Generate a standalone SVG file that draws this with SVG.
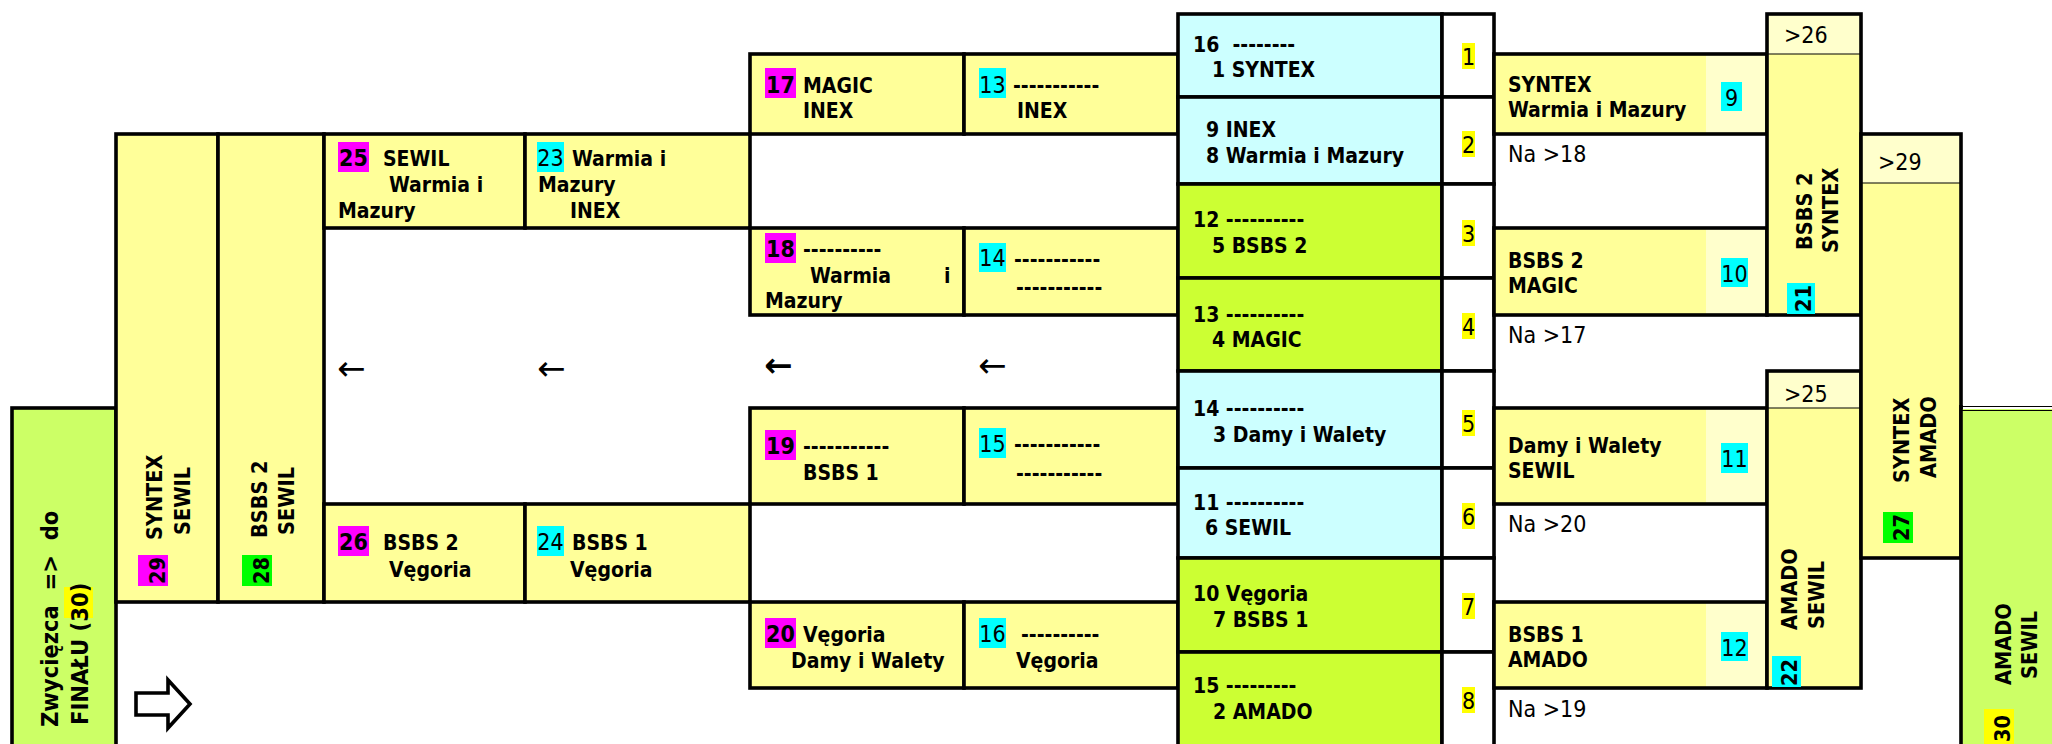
<svg xmlns="http://www.w3.org/2000/svg" width="2052" height="744" viewBox="0 0 2052 744">
<style>
.t{font-family:"DejaVu Sans Condensed","DejaVu Sans",sans-serif;font-stretch:condensed;fill:#000}
.b{font-weight:bold;font-size:21px}
.r{font-size:23px}
.lb{font-weight:bold;font-size:23px}
.v{font-weight:bold;font-size:21.5px}
.g{font-weight:bold;font-size:23.5px}
.m{text-anchor:middle}
.ar{font-family:"DejaVu Sans",sans-serif;font-size:34px;fill:#000}
.y{fill:#FFFF99}
.ly{fill:#FFFFCC}
.c{fill:#CCFFFF}
.gr{fill:#CCFF33}
.w{fill:#FFFFFF}
.k{stroke:#000;stroke-width:3.6}
.n{fill:none;stroke:#000;stroke-width:3.6}
.th{stroke:#000;stroke-width:1.2;fill:none}
.hm{fill:#FF00FF}
.hc{fill:#00FFFF}
.hg{fill:#00FF00}
.hy{fill:#FFFF00}
</style>
<rect x="0" y="0" width="2052" height="744" fill="#FFFFFF"/>

<g id="node-finalist">
<rect x="12" y="408" width="104" height="340" fill="#CCFF66" class="k"/>
<rect x="64" y="587" width="29" height="31" class="hy"/>
<text class="t g" transform="translate(58,727) rotate(-90)" xml:space="preserve">Zwycięzca  =&gt;  do</text>
<text class="t g" transform="translate(88,725) rotate(-90)">FINAŁU (30)</text>
</g>

<g id="node-29">
<rect x="116" y="134" width="102" height="468" class="y k"/>
<rect x="138" y="555" width="30" height="31" class="hm"/>
<text class="t v" transform="translate(162,540) rotate(-90)">SYNTEX</text>
<text class="t v" transform="translate(190,535) rotate(-90)">SEWIL</text>
<text class="t v" transform="translate(165,584) rotate(-90)">29</text>
</g>

<g id="node-28">
<rect x="218" y="134" width="106" height="468" class="y k"/>
<rect x="242" y="555" width="30" height="31" class="hg"/>
<text class="t v" transform="translate(267,538) rotate(-90)">BSBS 2</text>
<text class="t v" transform="translate(294,535) rotate(-90)">SEWIL</text>
<text class="t v" transform="translate(269,584) rotate(-90)">28</text>
</g>

<g id="node-25">
<rect x="324" y="134" width="201" height="94" class="y k"/>
<rect x="338" y="142" width="31" height="30" class="hm"/>
<text class="t lb m" x="353.5" y="166">25</text>
<text class="t b" x="383" y="166">SEWIL</text>
<text class="t b" x="389" y="192">Warmia i</text>
<text class="t b" x="338" y="218">Mazury</text>
</g>

<g id="node-23">
<rect x="525" y="134" width="225" height="94" class="y k"/>
<rect x="537" y="142" width="27" height="30" class="hc"/>
<text class="t r m" x="550.5" y="166">23</text>
<text class="t b" x="572" y="166">Warmia i</text>
<text class="t b" x="538" y="192">Mazury</text>
<text class="t b" x="570" y="218">INEX</text>
</g>

<g id="node-26">
<rect x="324" y="504" width="201" height="98" class="y k"/>
<rect x="338" y="526" width="31" height="30" class="hm"/>
<text class="t lb m" x="353.5" y="550">26</text>
<text class="t b" x="383" y="550">BSBS 2</text>
<text class="t b" x="389" y="577">Vęgoria</text>
</g>

<g id="node-24">
<rect x="525" y="504" width="225" height="98" class="y k"/>
<rect x="537" y="526" width="27" height="30" class="hc"/>
<text class="t r m" x="550.5" y="550">24</text>
<text class="t b" x="572" y="550">BSBS 1</text>
<text class="t b" x="570" y="577">Vęgoria</text>
</g>

<g id="node-17">
<rect x="750" y="54" width="214" height="80" class="y k"/>
<rect x="765" y="68" width="31" height="30" class="hm"/>
<text class="t lb m" x="780.5" y="93">17</text>
<text class="t b" x="803" y="93">MAGIC</text>
<text class="t b" x="803" y="118">INEX</text>
</g>

<g id="node-13">
<rect x="964" y="54" width="214" height="80" class="y k"/>
<rect x="979" y="68" width="27" height="30" class="hc"/>
<text class="t r m" x="992.5" y="93">13</text>
<text class="t b" x="1013" y="93">-----------</text>
<text class="t b" x="1017" y="118">INEX</text>
</g>

<g id="node-18">
<rect x="750" y="228" width="214" height="87" class="y k"/>
<rect x="765" y="233" width="31" height="30" class="hm"/>
<text class="t lb m" x="780.5" y="257">18</text>
<text class="t b" x="803" y="257">----------</text>
<text class="t b" x="810" y="283">Warmia</text>
<text class="t b" x="944" y="283">i</text>
<text class="t b" x="765" y="308">Mazury</text>
</g>

<g id="node-14">
<rect x="964" y="228" width="214" height="87" class="y k"/>
<rect x="979" y="243" width="27" height="29" class="hc"/>
<text class="t r m" x="992.5" y="266">14</text>
<text class="t b" x="1014" y="267">-----------</text>
<text class="t b" x="1016" y="295">-----------</text>
</g>

<g id="node-19">
<rect x="750" y="408" width="214" height="96" class="y k"/>
<rect x="765" y="430" width="31" height="30" class="hm"/>
<text class="t lb m" x="780.5" y="454">19</text>
<text class="t b" x="803" y="454">-----------</text>
<text class="t b" x="803" y="480">BSBS 1</text>
</g>

<g id="node-15">
<rect x="964" y="408" width="214" height="96" class="y k"/>
<rect x="979" y="428" width="27" height="30" class="hc"/>
<text class="t r m" x="992.5" y="452">15</text>
<text class="t b" x="1014" y="452">-----------</text>
<text class="t b" x="1016" y="481">-----------</text>
</g>

<g id="node-20">
<rect x="750" y="602" width="214" height="86" class="y k"/>
<rect x="765" y="618" width="31" height="30" class="hm"/>
<text class="t lb m" x="780.5" y="642">20</text>
<text class="t b" x="803" y="642">Vęgoria</text>
<text class="t b" x="791" y="668">Damy i Walety</text>
</g>

<g id="node-16">
<rect x="964" y="602" width="214" height="86" class="y k"/>
<rect x="979" y="618" width="27" height="30" class="hc"/>
<text class="t r m" x="992.5" y="642">16</text>
<text class="t b" x="1021" y="642">----------</text>
<text class="t b" x="1016" y="668">Vęgoria</text>
</g>

<g id="node-seed-1">
<rect x="1178" y="14" width="264" height="83" class="c k"/>
<rect x="1442" y="14" width="52" height="83" class="w k"/>
<rect x="1462" y="43" width="13" height="26" class="hy"/>
<text class="t b" x="1193" y="52" xml:space="preserve">16  --------</text>
<text class="t b" x="1212" y="77">1 SYNTEX</text>
<text class="t r m" x="1468.5" y="65">1</text>
</g>
<g id="node-seed-2">
<rect x="1178" y="97" width="264" height="87" class="c k"/>
<rect x="1442" y="97" width="52" height="87" class="w k"/>
<rect x="1462" y="131" width="13" height="26" class="hy"/>
<text class="t b" x="1206" y="137">9 INEX</text>
<text class="t b" x="1206" y="163">8 Warmia i Mazury</text>
<text class="t r m" x="1468.5" y="153">2</text>
</g>
<g id="node-seed-3">
<rect x="1178" y="184" width="264" height="94" class="gr k"/>
<rect x="1442" y="184" width="52" height="94" class="w k"/>
<rect x="1462" y="220" width="13" height="26" class="hy"/>
<text class="t b" x="1193" y="227">12 ----------</text>
<text class="t b" x="1212" y="253">5 BSBS 2</text>
<text class="t r m" x="1468.5" y="242">3</text>
</g>
<g id="node-seed-4">
<rect x="1178" y="278" width="264" height="93" class="gr k"/>
<rect x="1442" y="278" width="52" height="93" class="w k"/>
<rect x="1462" y="313" width="13" height="26" class="hy"/>
<text class="t b" x="1193" y="322">13 ----------</text>
<text class="t b" x="1212" y="347">4 MAGIC</text>
<text class="t r m" x="1468.5" y="335">4</text>
</g>
<g id="node-seed-5">
<rect x="1178" y="371" width="264" height="97" class="c k"/>
<rect x="1442" y="371" width="52" height="97" class="w k"/>
<rect x="1462" y="410" width="13" height="26" class="hy"/>
<text class="t b" x="1193" y="416">14 ----------</text>
<text class="t b" x="1213" y="442">3 Damy i Walety</text>
<text class="t r m" x="1468.5" y="432">5</text>
</g>
<g id="node-seed-6">
<rect x="1178" y="468" width="264" height="90" class="c k"/>
<rect x="1442" y="468" width="52" height="90" class="w k"/>
<rect x="1462" y="503" width="13" height="26" class="hy"/>
<text class="t b" x="1193" y="510">11 ----------</text>
<text class="t b" x="1205" y="535">6 SEWIL</text>
<text class="t r m" x="1468.5" y="525">6</text>
</g>
<g id="node-seed-7">
<rect x="1178" y="558" width="264" height="94" class="gr k"/>
<rect x="1442" y="558" width="52" height="94" class="w k"/>
<rect x="1462" y="593" width="13" height="26" class="hy"/>
<text class="t b" x="1193" y="601">10 Vęgoria</text>
<text class="t b" x="1213" y="627">7 BSBS 1</text>
<text class="t r m" x="1468.5" y="615">7</text>
</g>
<g id="node-seed-8">
<rect x="1178" y="652" width="264" height="96" class="gr k"/>
<rect x="1442" y="652" width="52" height="96" class="w k"/>
<rect x="1462" y="687" width="13" height="26" class="hy"/>
<text class="t b" x="1193" y="693">15 ---------</text>
<text class="t b" x="1213" y="719">2 AMADO</text>
<text class="t r m" x="1468.5" y="709">8</text>
</g>

<g id="node-9">
<rect x="1494" y="54" width="273" height="80" class="y"/>
<rect x="1706" y="54" width="61" height="80" class="ly"/>
<rect x="1494" y="54" width="273" height="80" class="n"/>
<rect x="1721" y="82" width="21" height="29" class="hc"/>
<text class="t b" x="1508" y="92">SYNTEX</text>
<text class="t b" x="1508" y="117">Warmia i Mazury</text>
<text class="t r m" x="1731.5" y="106">9</text>
</g>
<g id="node-10">
<rect x="1494" y="228" width="273" height="87" class="y"/>
<rect x="1706" y="228" width="61" height="87" class="ly"/>
<rect x="1494" y="228" width="273" height="87" class="n"/>
<rect x="1721" y="258" width="27" height="29" class="hc"/>
<text class="t b" x="1508" y="268">BSBS 2</text>
<text class="t b" x="1508" y="293">MAGIC</text>
<text class="t r m" x="1734.5" y="282">10</text>
</g>
<g id="node-11">
<rect x="1494" y="408" width="273" height="96" class="y"/>
<rect x="1706" y="408" width="61" height="96" class="ly"/>
<rect x="1494" y="408" width="273" height="96" class="n"/>
<rect x="1721" y="443" width="27" height="30" class="hc"/>
<text class="t b" x="1508" y="453">Damy i Walety</text>
<text class="t b" x="1508" y="478">SEWIL</text>
<text class="t r m" x="1734.5" y="467">11</text>
</g>
<g id="node-12">
<rect x="1494" y="602" width="273" height="86" class="y"/>
<rect x="1706" y="602" width="61" height="86" class="ly"/>
<rect x="1494" y="602" width="273" height="86" class="n"/>
<rect x="1721" y="632" width="27" height="29" class="hc"/>
<text class="t b" x="1508" y="642">BSBS 1</text>
<text class="t b" x="1508" y="667">AMADO</text>
<text class="t r m" x="1734.5" y="656">12</text>
</g>

<g id="notes">
<text class="t r" x="1508" y="162">Na &gt;18</text>
<text class="t r" x="1508" y="343">Na &gt;17</text>
<text class="t r" x="1508" y="532">Na &gt;20</text>
<text class="t r" x="1508" y="717">Na &gt;19</text>
</g>

<g id="node-21">
<rect x="1767" y="14" width="94" height="40" class="ly"/>
<rect x="1767" y="54" width="94" height="261" class="y"/>
<line x1="1767" y1="54" x2="1861" y2="54" class="th"/>
<rect x="1767" y="14" width="94" height="301" class="n"/>
<text class="t r" x="1784" y="43">&gt;26</text>
<rect x="1787" y="283" width="28" height="31" class="hc"/>
<text class="t v" transform="translate(1812,250) rotate(-90)">BSBS 2</text>
<text class="t v" transform="translate(1838,253) rotate(-90)">SYNTEX</text>
<text class="t v" transform="translate(1811,312) rotate(-90)">21</text>
</g>

<g id="node-22">
<rect x="1767" y="371" width="94" height="37" class="ly"/>
<rect x="1767" y="408" width="94" height="280" class="y"/>
<line x1="1767" y1="408" x2="1861" y2="408" class="th"/>
<rect x="1767" y="371" width="94" height="317" class="n"/>
<text class="t r" x="1784" y="402">&gt;25</text>
<rect x="1772" y="656" width="29" height="31" class="hc"/>
<text class="t v" transform="translate(1797,630) rotate(-90)">AMADO</text>
<text class="t v" transform="translate(1824,629) rotate(-90)">SEWIL</text>
<text class="t v" transform="translate(1797,686) rotate(-90)">22</text>
</g>

<g id="node-27">
<rect x="1861" y="134" width="100" height="49" class="ly"/>
<rect x="1861" y="183" width="100" height="375" class="y"/>
<line x1="1861" y1="183" x2="1961" y2="183" class="th"/>
<rect x="1861" y="134" width="100" height="424" class="n"/>
<text class="t r" x="1878" y="170">&gt;29</text>
<rect x="1883" y="512" width="30" height="31" class="hg"/>
<text class="t v" transform="translate(1909,483) rotate(-90)">SYNTEX</text>
<text class="t v" transform="translate(1936,478) rotate(-90)">AMADO</text>
<text class="t v" transform="translate(1909,541) rotate(-90)">27</text>
</g>

<g id="node-30">
<rect x="1961" y="409" width="95" height="340" fill="#CCFF66"/>
<line x1="1961" y1="406.5" x2="2052" y2="406.5" class="th"/>
<line x1="1961" y1="410.5" x2="2052" y2="410.5" class="th"/>
<line x1="1961" y1="405" x2="1961" y2="746" class="k"/>
<rect x="1984" y="709" width="30" height="36" class="hy"/>
<text class="t v" transform="translate(2011,685) rotate(-90)">AMADO</text>
<text class="t v" transform="translate(2037,679) rotate(-90)">SEWIL</text>
<text class="t v" transform="translate(2010,742) rotate(-90)">30</text>
</g>

<g id="connectors">
<text class="ar" x="337" y="380">←</text>
<text class="ar" x="537" y="380">←</text>
<text class="ar" style="font-weight:bold" x="764" y="377">←</text>
<text class="ar" x="978" y="377">←</text>
<polygon points="136,693 168,693 168,680 190,704 168,728 168,715 136,715" fill="#FFFFFF" stroke="#000" stroke-width="3.6" stroke-linejoin="miter"/>
</g>
</svg>
